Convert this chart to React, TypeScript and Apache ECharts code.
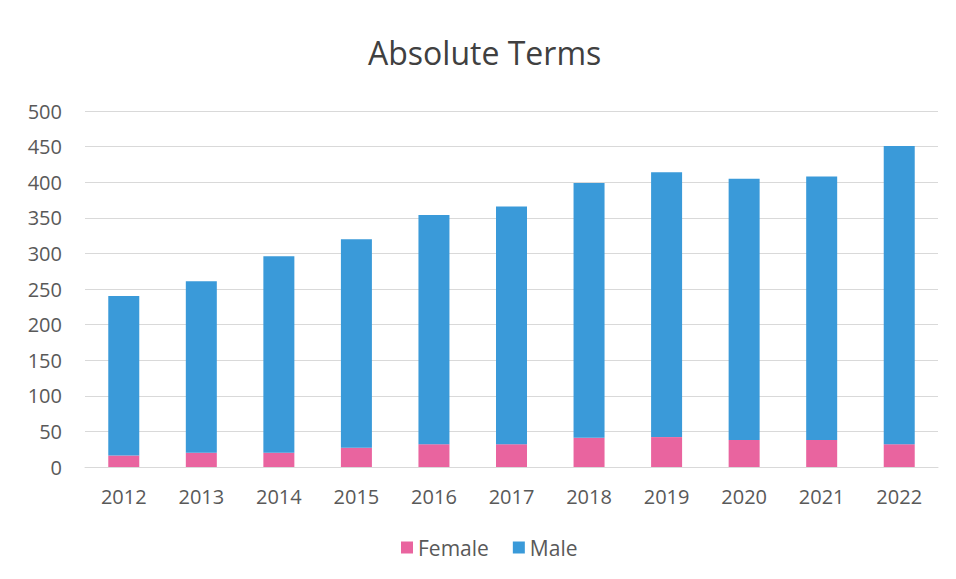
import React, { useEffect, useRef } from "react";
import * as echarts from "echarts";

const years = ["2012", "2013", "2014", "2015", "2016", "2017", "2018", "2019", "2020", "2021", "2022"];
const female = [16, 20, 20, 27, 32, 32, 41, 42, 38, 38, 32];
const male = [224, 241, 276, 293, 322, 334, 358, 372, 367, 370, 419];

const FONT = "'Open Sans', sans-serif";

export default function App() {
  const ref = useRef<HTMLDivElement>(null);
  useEffect(() => {
    if (!ref.current) return;
    const chart = echarts.init(ref.current, undefined, { renderer: "svg" });
    chart.setOption({
      animation: false,
      backgroundColor: "#ffffff",
      title: {
        text: "Absolute Terms",
        left: 368,
        top: 36,
        padding: 0,
        textStyle: { fontFamily: FONT, fontSize: 32, fontWeight: "normal", color: "#404040" },
      },
      legend: {
        data: ["Female", "Male"],
        left: 401,
        top: 537,
        padding: 0,
        itemWidth: 12,
        itemHeight: 12,
        itemGap: 24,
        icon: "rect",
        textStyle: { fontFamily: FONT, fontSize: 21, color: "#595959" },
      },
      grid: { left: 85, right: 18, top: 111, bottom: 112 },
      xAxis: {
        type: "category",
        data: years,
        axisLine: { show: true, lineStyle: { color: "#d9d9d9" } },
        axisTick: { show: false },
        axisLabel: { fontFamily: FONT, fontSize: 20, color: "#595959", margin: 19 },
      },
      yAxis: {
        type: "value",
        min: 0,
        max: 500,
        interval: 50,
        axisLine: { show: false },
        axisTick: { show: false },
        axisLabel: { fontFamily: FONT, fontSize: 20, color: "#595959", margin: 23 },
        splitLine: { lineStyle: { color: "#d9d9d9" } },
      },
      series: [
        {
          name: "Female",
          type: "bar",
          stack: "total",
          data: female,
          barWidth: 31,
          itemStyle: { color: "#E9649F" },
        },
        {
          name: "Male",
          type: "bar",
          stack: "total",
          data: male,
          barWidth: 31,
          itemStyle: { color: "#3A9AD9" },
        },
      ],
    });
    return () => chart.dispose();
  }, []);
  return (
    <div
      ref={ref}
      style={{ position: "fixed", left: 0, top: 0, width: 956, height: 579 }}
    />
  );
}
